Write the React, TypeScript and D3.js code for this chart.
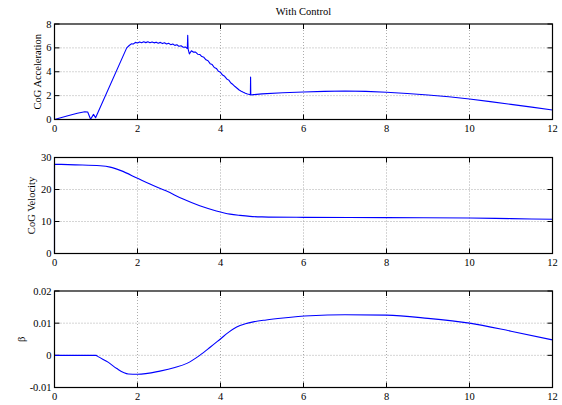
import React, { useEffect, useRef } from 'react';
import * as d3 from 'd3';

// time axis ticks shared by all panels
const timeTicks = [0, 2, 4, 6, 8, 10, 12];

// CoG acceleration (top panel)
const accT = [0, 0.3, 0.55, 0.73, 0.8, 0.87, 0.94, 0.99, 1.74, 1.8, 1.85, 1.9, 1.95, 2.0, 2.05, 2.1, 2.15, 2.2, 2.25, 2.3, 2.35, 2.4, 2.45, 2.5, 2.55, 2.6, 2.65, 2.7, 2.75, 2.8, 2.85, 2.9, 2.95, 3.0, 3.05, 3.1, 3.15, 3.2, 3.21, 3.22, 3.25, 3.3, 3.35, 3.4, 3.45, 3.5, 3.55, 3.6, 3.65, 3.7, 3.75, 3.8, 3.85, 3.9, 3.95, 4.0, 4.05, 4.1, 4.15, 4.2, 4.25, 4.3, 4.35, 4.4, 4.45, 4.5, 4.55, 4.6, 4.65, 4.7, 4.72, 4.725, 4.73, 4.8, 5.0, 5.5, 6.0, 6.5, 7.0, 7.5, 8.0, 8.5, 9.0, 9.5, 10.0, 10.5, 11.0, 11.5, 12.0];
const accV = [0, 0.3, 0.52, 0.65, 0.63, 0.02, 0.43, 0.15, 6.0, 6.2, 6.34, 6.33, 6.46, 6.41, 6.5, 6.43, 6.51, 6.44, 6.51, 6.43, 6.5, 6.42, 6.48, 6.39, 6.46, 6.36, 6.43, 6.32, 6.38, 6.27, 6.33, 6.21, 6.26, 6.13, 6.18, 6.05, 6.08, 5.95, 7.05, 5.9, 5.5, 5.76, 5.64, 5.64, 5.47, 5.45, 5.27, 5.21, 5.0, 4.92, 4.68, 4.6, 4.36, 4.28, 4.04, 3.95, 3.72, 3.62, 3.4, 3.3, 3.06, 2.93, 2.76, 2.62, 2.47, 2.37, 2.28, 2.2, 2.14, 2.1, 2.09, 3.55, 2.05, 2.08, 2.15, 2.24, 2.3, 2.36, 2.39, 2.36, 2.28, 2.18, 2.05, 1.9, 1.72, 1.5, 1.27, 1.04, 0.8];

// CoG velocity (middle panel); the trace starts with a jump from 0 at t = 0
const velT = [0, 0, 0.5, 1.1, 1.34, 1.6, 2.0, 2.3, 2.7, 3.1, 3.5, 3.9, 4.23, 4.47, 4.71, 5.0, 6.0, 8.0, 10.0, 11.0, 12.0];
const velV = [0, 27.9, 27.7, 27.4, 27.0, 25.9, 23.5, 21.7, 19.5, 17.0, 14.9, 13.3, 12.3, 11.9, 11.6, 11.45, 11.3, 11.2, 11.1, 10.9, 10.7];

// beta (bottom panel)
const betaT = [0, 0.5, 1.0, 1.05, 1.3, 1.5, 1.78, 2.0, 2.54, 2.9, 3.19, 3.5, 3.75, 3.99, 4.2, 4.39, 4.6, 4.79, 5.1, 5.51, 6.16, 7.0, 8.0, 9.0, 10.0, 11.0, 12.0];
const betaV = [0, 0, 0, -0.0004, -0.0022, -0.0041, -0.0058, -0.0059, -0.0049, -0.0038, -0.0025, 0, 0.0025, 0.005, 0.0072, 0.0088, 0.0098, 0.0104, 0.011, 0.0116, 0.0123, 0.0126, 0.0125, 0.0115, 0.01, 0.0075, 0.0048];

const accTicks = [0, 2, 4, 6, 8];
const velTicks = [0, 10, 20, 30];
const betaTicks = [-0.01, 0, 0.01, 0.02];
const betaTickLabels = ['-0.01', '0', '0.01', '0.02'];

export default function App() {
  const ref = useRef(null);

  useEffect(() => {
    const svg = d3.select(ref.current);
    svg.selectAll('*').remove();

    const left = 54.5, right = 552.5;
    const font = "'Liberation Serif', 'Times New Roman', serif";
    const x = d3.scaleLinear().domain([0, 12]).range([left, right]);

    svg.append('text')
      .attr('x', (left + right) / 2).attr('y', 15)
      .attr('text-anchor', 'middle')
      .style('font-family', font).style('font-size', '10.5px')
      .text('With Control');

    const panels = [
      { top: 24, bottom: 119.5, domain: [0, 8], ticks: accTicks, labels: accTicks.map(String), t: accT, v: accV, label: 'CoG Acceleration', lx: 37, curve: d3.curveLinear },
      { top: 157.5, bottom: 253.5, domain: [0, 30], ticks: velTicks, labels: velTicks.map(String), t: velT, v: velV, label: 'CoG Velocity', lx: 31, curve: d3.curveMonotoneX },
      { top: 291, bottom: 387.5, domain: [-0.01, 0.02], ticks: betaTicks, labels: betaTickLabels, t: betaT, v: betaV, label: 'β', lx: 21, curve: d3.curveMonotoneX },
    ];

    panels.forEach(p => {
      const y = d3.scaleLinear().domain(p.domain).range([p.bottom, p.top]);
      const g = svg.append('g');

      // grid
      g.selectAll('.vgrid').data(timeTicks.slice(1, -1)).join('line')
        .attr('x1', d => x(d)).attr('x2', d => x(d))
        .attr('y1', p.top).attr('y2', p.bottom)
        .attr('stroke', '#888').attr('stroke-width', 0.7).attr('stroke-dasharray', '1,2');
      g.selectAll('.hgrid').data(p.ticks.slice(1, -1)).join('line')
        .attr('x1', left).attr('x2', right)
        .attr('y1', d => y(d)).attr('y2', d => y(d))
        .attr('stroke', '#888').attr('stroke-width', 0.7).attr('stroke-dasharray', '1,2');

      // inward ticks on all four sides
      const tl = 5;
      timeTicks.forEach(d => {
        g.append('line').attr('x1', x(d)).attr('x2', x(d)).attr('y1', p.bottom).attr('y2', p.bottom - tl).attr('stroke', 'black');
        g.append('line').attr('x1', x(d)).attr('x2', x(d)).attr('y1', p.top).attr('y2', p.top + tl).attr('stroke', 'black');
      });
      p.ticks.forEach(d => {
        g.append('line').attr('x1', left).attr('x2', left + tl).attr('y1', y(d)).attr('y2', y(d)).attr('stroke', 'black');
        g.append('line').attr('x1', right).attr('x2', right - tl).attr('y1', y(d)).attr('y2', y(d)).attr('stroke', 'black');
      });

      // data line: a leading vertical jump (same t twice) is drawn straight,
      // the rest through the panel's curve
      let pts = p.t.map((t, i) => [t, p.v[i]]);
      let prefix = '';
      if (pts.length > 1 && pts[0][0] === pts[1][0]) {
        prefix = `M${x(pts[0][0])},${y(pts[0][1])}`;
        pts = pts.slice(1);
      }
      const body = d3.line().curve(p.curve).x(d => x(d[0])).y(d => y(d[1]))(pts);
      g.append('path')
        .attr('fill', 'none')
        .attr('stroke', '#0000ff')
        .attr('stroke-width', 1.1)
        .attr('stroke-linejoin', 'round')
        .attr('d', prefix ? prefix + 'L' + body.slice(1) : body);

      // frame
      g.append('rect')
        .attr('x', left).attr('y', p.top)
        .attr('width', right - left).attr('height', p.bottom - p.top)
        .attr('fill', 'none').attr('stroke', 'black').attr('stroke-width', 1.2);

      // tick labels
      g.selectAll('.xl').data(timeTicks).join('text')
        .attr('x', d => x(d)).attr('y', p.bottom + 12)
        .attr('text-anchor', 'middle')
        .style('font-family', font).style('font-size', '10.5px')
        .text(d => String(d));
      g.selectAll('.yl').data(p.ticks).join('text')
        .attr('x', left - 3).attr('y', d => y(d) + 3.5)
        .attr('text-anchor', 'end')
        .style('font-family', font).style('font-size', '10.5px')
        .text((d, i) => p.labels[i]);

      g.append('text')
        .attr('transform', `translate(${p.lx},${(p.top + p.bottom) / 2}) rotate(-90)`)
        .attr('text-anchor', 'middle')
        .attr('dy', '0.35em')
        .style('font-family', font).style('font-size', '10.5px')
        .text(p.label);
    });
  }, []);

  return (
    <svg ref={ref} width={562} height={405}
      style={{ position: 'absolute', left: 0, top: 0, background: 'white' }} />
  );
}
